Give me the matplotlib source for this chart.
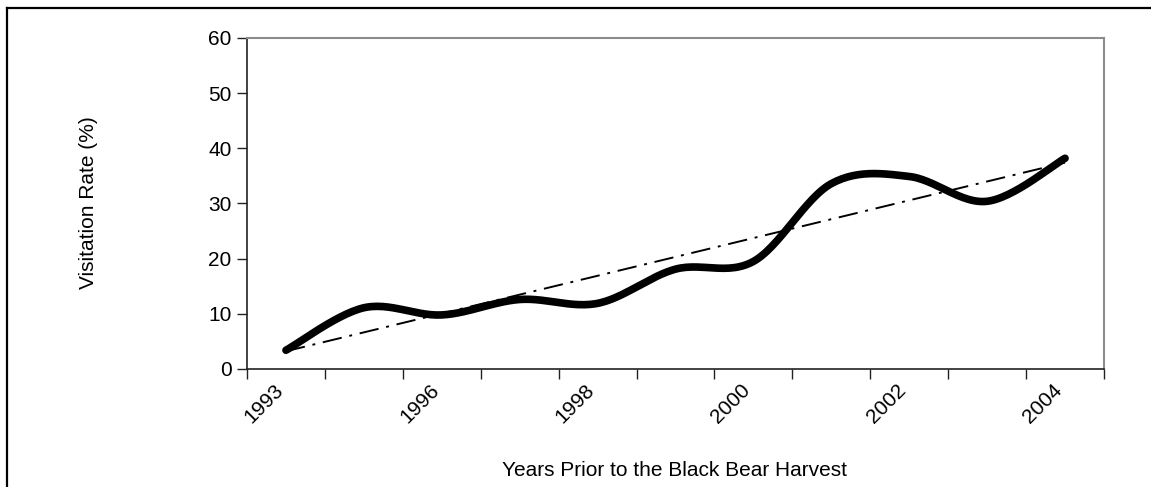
import numpy as np
import matplotlib
matplotlib.use('Agg')
import matplotlib.pyplot as plt
from matplotlib.lines import Line2D
from matplotlib.transforms import ScaledTranslation

plt.rcParams['font.family'] = ['Liberation Sans', 'DejaVu Sans']

# data
years = ['1993', '1995', '1996', '1997', '1998', '1999', '2000', '2001', '2002', '2003', '2004']
rate = [3.4, 11.1, 9.8, 12.6, 11.9, 18.1, 19.5, 33.6, 34.9, 30.4, 38.2]
shown = ['1993', '1996', '1998', '2000', '2002', '2004']


def smooth(x, y, n=30):
    # excel style smoothed line (bezier through points)
    x = np.asarray(x, float)
    y = np.asarray(y, float)
    px = np.concatenate([[x[0]], x, [x[-1]]])
    py = np.concatenate([[y[0]], y, [y[-1]]])
    xs, ys = [], []
    t = np.linspace(0, 1, n)
    for i in range(1, len(px) - 2):
        p0 = np.array([px[i], py[i]])
        p3 = np.array([px[i + 1], py[i + 1]])
        p1 = p0 + (np.array([px[i + 1], py[i + 1]]) - np.array([px[i - 1], py[i - 1]])) / 6
        p2 = p3 - (np.array([px[i + 2], py[i + 2]]) - np.array([px[i], py[i]])) / 6
        b = ((1 - t) ** 3)[:, None] * p0 + (3 * (1 - t) ** 2 * t)[:, None] * p1 \
            + (3 * (1 - t) * t ** 2)[:, None] * p2 + (t ** 3)[:, None] * p3
        xs.extend(b[:, 0])
        ys.extend(b[:, 1])
    return np.array(xs), np.array(ys)


fig = plt.figure(figsize=(11.51, 4.87), dpi=100)
ax = fig.add_axes([247 / 1151, 1 - 369 / 487, (1104 - 247) / 1151, (369 - 38) / 487])

xi = np.arange(len(years))
sx, sy = smooth(xi, rate)
ax.plot(sx, sy, color='black', lw=5.5, solid_capstyle='round', zorder=3)

k, b0 = np.polyfit(xi, rate, 1)
ax.plot([xi[0], xi[-1]], [b0, k * xi[-1] + b0], color='black', lw=1.4,
        dashes=(10, 4, 1.5, 4), zorder=2)

ax.set_xlim(-0.5, len(years) - 0.5)
ax.set_ylim(0, 60)
ax.set_yticks(range(0, 61, 10))

ax.set_xticks([years.index(s) for s in shown])
ax.set_xticklabels(shown, rotation=45, ha='right', va='top', rotation_mode='anchor')
ax.set_xticks(np.arange(-0.5, len(years)), minor=True)
ax.tick_params(axis='x', which='major', length=0, pad=8, labelsize=15)
ax.tick_params(axis='x', which='minor', length=7, width=1, direction='out', color='#222222')
ax.tick_params(axis='y', length=7, width=1, direction='out', labelsize=15, pad=4, color='#222222')
off = ScaledTranslation(-9 / 72, 0, fig.dpi_scale_trans)
for lbl in ax.get_xticklabels():
    lbl.set_transform(lbl.get_transform() + off)

for s in ['top', 'right']:
    ax.spines[s].set_color('#8c8c8c')
    ax.spines[s].set_linewidth(1.5)
for s in ['left', 'bottom']:
    ax.spines[s].set_color('#222222')
    ax.spines[s].set_linewidth(1.2)

fig.text(88 / 1151, 1 - 203 / 487, 'Visitation Rate (%)', rotation=90,
         ha='center', va='center', fontsize=15)
fig.text(675 / 1151, 1 - 470 / 487, 'Years Prior to the Black Bear Harvest',
         ha='center', va='center', fontsize=15)

# outer frame
fig.add_artist(Line2D([7 / 1151, 1], [1 - 8 / 487, 1 - 8 / 487], color='black', lw=1.6))
fig.add_artist(Line2D([7 / 1151, 7 / 1151], [0, 1 - 8 / 487], color='black', lw=1.6))

fig.savefig('out.png', dpi=100)
